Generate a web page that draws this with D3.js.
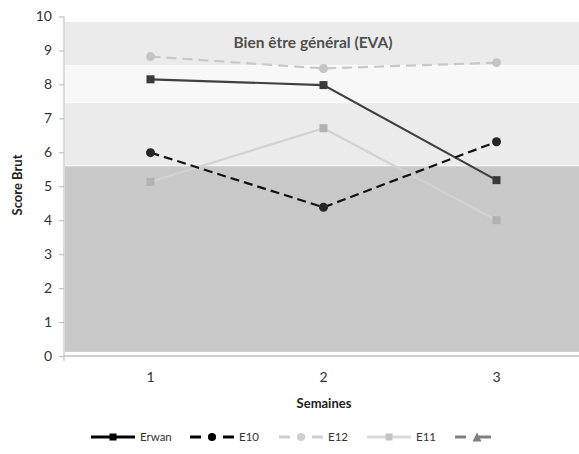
<!DOCTYPE html>
<html>
<head>
<meta charset="utf-8">
<script src="https://cdn.jsdelivr.net/npm/d3@7"></script>
<style>
  html, body { margin: 0; padding: 0; background: #fff; }
  svg { display: block; font-family: Lato, "Open Sans", sans-serif; }
</style>
</head>
<body>
<svg id="chart" width="579" height="454"></svg>
<script>
// Weeks on the x axis
const weeks = ["1", "2", "3"];
const yTicks = [0, 1, 2, 3, 4, 5, 6, 7, 8, 9, 10];

// Raw scores per participant
const erwan = [8.15, 7.98, 5.18];
const e10 = [5.99, 4.38, 6.31];
const e12 = [8.82, 8.47, 8.64];
const e11 = [5.13, 6.71, 4.0];

// Shaded reference zones (lower, upper score bounds)
const zoneLower = [0.12, 5.6, 7.46, 8.56];
const zoneUpper = [5.6, 7.46, 8.56, 9.84];
const zoneFill = ["#c8c8c8", "#ebebeb", "#f8f8f8", "#ebebeb"];

const seriesNames = ["Erwan", "E10", "E12", "E11", ""];

const series = [
  { name: seriesNames[0], values: erwan, line: "#404040", marker: "#3a3a3a", shape: "square", dash: null, legendLine: "#000", legendMarker: "#000" },
  { name: seriesNames[1], values: e10, line: "#111", marker: "#262626", shape: "circle", dash: "9,5", legendLine: "#000", legendMarker: "#000" },
  { name: seriesNames[2], values: e12, line: "#c8c8c8", marker: "#c4c4c4", shape: "circle", dash: "10,6", legendLine: "#cfcfcf", legendMarker: "#cfcfcf" },
  { name: seriesNames[3], values: e11, line: "#d2d2d2", marker: "#b2b2b2", shape: "square", dash: null, legendLine: "#d9d9d9", legendMarker: "#c4c4c4" },
  { name: seriesNames[4], values: [], line: "#7f7f7f", marker: "#7f7f7f", shape: "triangle", dash: "9,5", legendLine: "#808080", legendMarker: "#808080" }
];

const svg = d3.select("#chart");
const plotLeft = 64, plotRight = 583, plotTop = 16.5, plotBottom = 356;

const x = d3.scaleBand().domain(weeks).range([plotLeft, plotRight]).paddingInner(0).paddingOuter(0);
const y = d3.scaleLinear().domain([0, 10]).range([plotBottom, plotTop]);
const cx = d => x(d) + x.bandwidth() / 2;

// Zones
svg.append("g").selectAll("rect")
  .data(zoneLower.map((lo, i) => ({ lo, hi: zoneUpper[i], fill: zoneFill[i] })))
  .join("rect")
  .attr("x", plotLeft + 1)
  .attr("width", plotRight - plotLeft)
  .attr("y", d => y(d.hi))
  .attr("height", d => y(d.lo) - y(d.hi))
  .attr("fill", d => d.fill);
svg.append("g").selectAll("line")
  .data(zoneUpper.slice(0, 3))
  .join("line")
  .attr("x1", plotLeft + 1).attr("x2", plotRight)
  .attr("y1", d => y(d)).attr("y2", d => y(d))
  .attr("stroke", "#fff").attr("stroke-width", 1).attr("opacity", 0.7);

// Zone label
svg.append("text")
  .attr("x", 313).attr("y", 48)
  .attr("text-anchor", "middle")
  .attr("font-size", 15.5).attr("font-weight", "bold")
  .attr("fill", "#505050")
  .text("Bien être général (EVA)");

// Y axis
const yAxis = svg.append("g")
  .attr("transform", `translate(${plotLeft},0)`)
  .call(d3.axisLeft(y).tickValues(yTicks).tickSize(5).tickPadding(7).tickFormat(d3.format("d")));
yAxis.select(".domain").attr("stroke", "#b8b8b8").attr("d", `M0,${plotTop}V${plotBottom + 5}`);
yAxis.selectAll(".tick line").attr("stroke", "#b8b8b8");
yAxis.selectAll(".tick text").attr("font-size", 14).attr("fill", "#333").attr("font-family", "Lato, sans-serif");

// X axis
const xAxis = svg.append("g")
  .attr("transform", `translate(0,${plotBottom})`)
  .call(d3.axisBottom(x).tickSize(0).tickPadding(16));
xAxis.select(".domain").attr("stroke", "#c0c0c0").attr("stroke-width", 1.5).attr("d", `M${plotLeft},0H${plotRight}`);
xAxis.selectAll(".tick text").attr("font-size", 14).attr("fill", "#333").attr("font-family", "Lato, sans-serif");

// Axis titles
svg.append("text")
  .attr("x", 324).attr("y", 408)
  .attr("text-anchor", "middle")
  .attr("font-size", 13).attr("font-weight", "bold").attr("fill", "#222")
  .text("Semaines");
svg.append("text")
  .attr("transform", "translate(22,185) rotate(-90)")
  .attr("text-anchor", "middle")
  .attr("font-size", 13).attr("font-weight", "bold").attr("fill", "#222")
  .text("Score Brut");

function drawMarker(g, shape, px, py, fill, size) {
  if (shape === "square") {
    g.append("rect").attr("x", px - size / 2).attr("y", py - size / 2)
      .attr("width", size).attr("height", size).attr("fill", fill);
  } else if (shape === "circle") {
    g.append("circle").attr("cx", px).attr("cy", py).attr("r", size / 2).attr("fill", fill);
  } else {
    const h = size;
    g.append("path").attr("d", `M${px},${py - h / 2}L${px + h / 2},${py + h / 2}L${px - h / 2},${py + h / 2}Z`).attr("fill", fill);
  }
}

// Series lines and markers
const line = d3.line().x((d, i) => cx(weeks[i])).y(d => y(d));
const order = [3, 2, 0, 1];
order.forEach(k => {
  const s = series[k];
  const g = svg.append("g");
  g.append("path")
    .attr("d", line(s.values))
    .attr("fill", "none")
    .attr("stroke", s.line)
    .attr("stroke-width", 2.2)
    .attr("stroke-dasharray", s.dash);
  s.values.forEach((v, i) => drawMarker(g, s.shape, cx(weeks[i]), y(v), s.marker, s.shape === "circle" ? 9 : 8));
});

// Legend
const legend = svg.append("g").attr("font-size", 11.5).attr("fill", "#333");
const legendX = [91, 190, 279, 367, 455];
const legendY = 437;
series.forEach((s, k) => {
  const g = legend.append("g");
  const x0 = legendX[k], w = 44;
  let segs = [[0, w]];
  if (s.shape === "triangle") segs = [[0, 11], [22, 36]];
  else if (s.dash) segs = [[0, 11], [18, 26], [33, 44]];
  segs.forEach(([a, b]) => {
    g.append("line")
      .attr("x1", x0 + a).attr("x2", x0 + b)
      .attr("y1", legendY).attr("y2", legendY)
      .attr("stroke", s.legendLine).attr("stroke-width", 3);
  });
  const size = s.shape === "circle" ? 8 : s.shape === "triangle" ? 9 : 7;
  drawMarker(g, s.shape, x0 + w / 2, legendY, s.legendMarker, size);
  if (s.name) {
    g.append("text").attr("x", x0 + w + 5).attr("y", legendY + 4).text(s.name);
  }
});
</script>
</body>
</html>
